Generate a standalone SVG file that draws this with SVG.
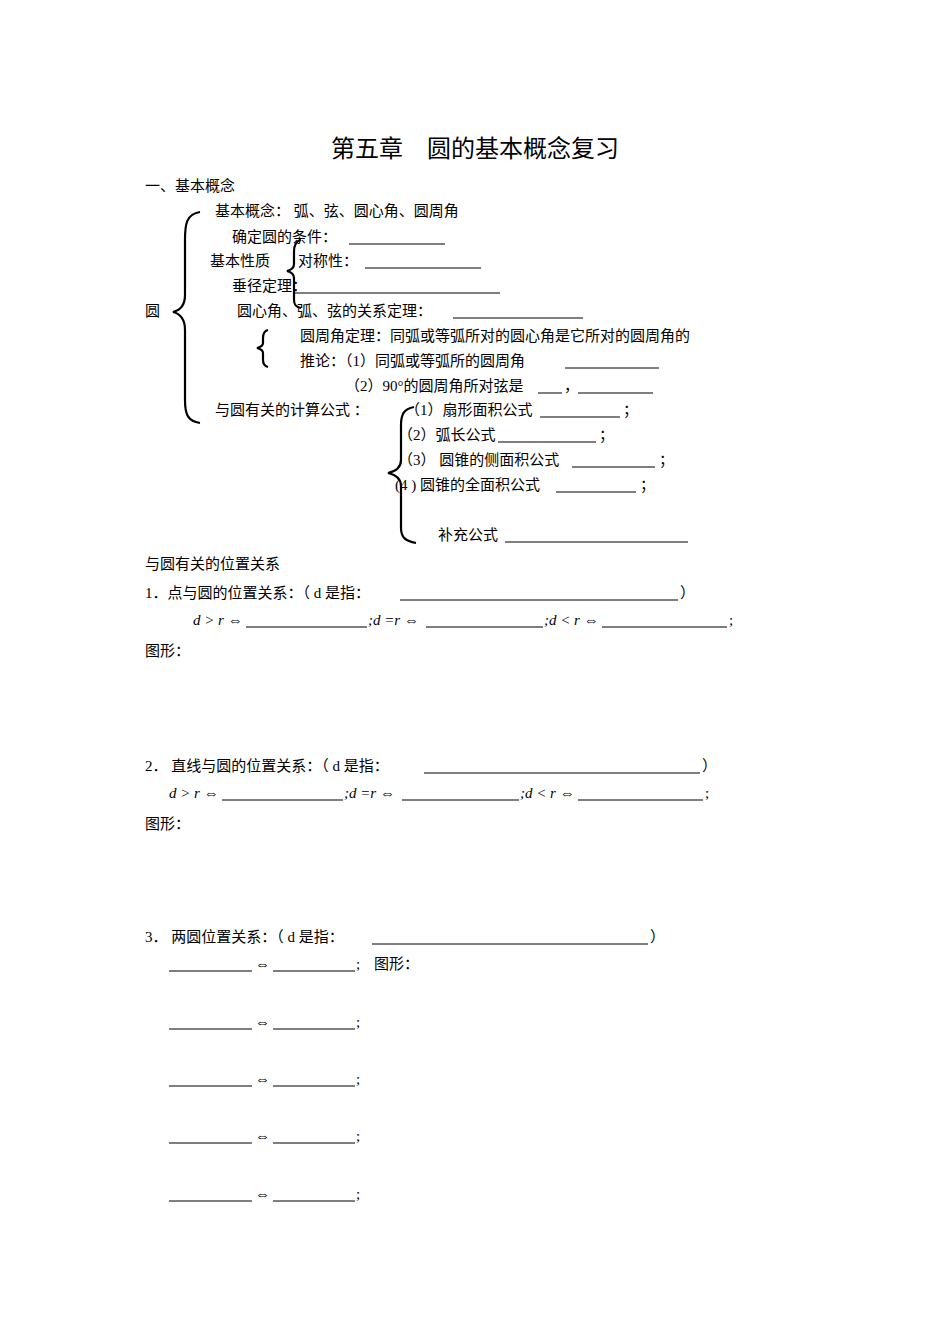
<svg xmlns="http://www.w3.org/2000/svg" width="950" height="1344" viewBox="0 0 950 1344">
<style>
text{font-family:"Liberation Serif","Noto Sans CJK SC",serif;font-size:15px;fill:#000}
.t{font-size:24px}
.i{font-style:italic}
.b{stroke:#000;stroke-width:1}
.br{fill:none;stroke:#000;stroke-width:2.2}
</style>
<rect width="950" height="1344" fill="#fff"/>
<text class="t" x="475" y="157" text-anchor="middle">第五章　圆的基本概念复习</text>
<g id="braces">
<path class="br" d="M200,212 C186,214 185,225 185,240 L185,295 C185,305 181,310 173,312 C181,314 185,320 185,330 L185,400 C185,415 188,421 200,423"/>
<path class="br" d="M301,240 C295,241 294,246 294,252 L294,264 C294,268 291,270 287,271 C291,272 294,274 294,278 L294,300 C294,305 296,307 301,308"/>
<path class="br" d="M268,330 C264,331 263,334 263,338 L263,343 C263,346 261,347 257,348 C261,349 263,350 263,353 L263,360 C263,364 264,366 268,367"/>
<path class="br" d="M414,407 C404,409 401,414 401,425 L401,460 C401,467 397,471 388,473 C397,475 401,479 401,486 L401,528 C401,537 405,541 416,543"/>
</g>
<g id="text">
<text x="145" y="191">一、基本概念</text>
<text x="215" y="216">基本概念：  弧、弦、圆心角、圆周角</text>
<text x="232" y="242">确定圆的条件：</text><line class="b" x1="349" y1="244" x2="445" y2="244"/>
<text x="210" y="266">基本性质</text><text x="298" y="266">对称性：</text><line class="b" x1="365" y1="268" x2="481" y2="268"/>
<text x="232" y="291">垂径定理：</text><line class="b" x1="293" y1="293" x2="500" y2="293"/>
<text x="145" y="316">圆</text><text x="237" y="316">圆心角、弧、弦的关系定理：</text><line class="b" x1="453" y1="318" x2="583" y2="318"/>
<text x="300" y="341">圆周角定理：同弧或等弧所对的圆心角是它所对的圆周角的</text>
<text x="300" y="366">推论：（1）同弧或等弧所的圆周角</text><line class="b" x1="565" y1="368" x2="659" y2="368"/>
<text x="345" y="391">（2）90°的圆周角所对弦是</text><line class="b" x1="538" y1="393" x2="562" y2="393"/><text x="564" y="391">，</text><line class="b" x1="578" y1="393" x2="653" y2="393"/>
<text x="215" y="415">与圆有关的计算公式 ：</text>
<text x="405" y="415">（1）扇形面积公式</text><line class="b" x1="540" y1="417" x2="620" y2="417"/><text x="623" y="415">；</text>
<text x="398" y="440">（2）弧长公式</text><line class="b" x1="498" y1="442" x2="596" y2="442"/><text x="599" y="440">；</text>
<text x="398" y="465">（3） 圆锥的侧面积公式</text><line class="b" x1="572" y1="467" x2="655" y2="467"/><text x="659" y="465">；</text>
<text x="395" y="490">(4 ) 圆锥的全面积公式</text><line class="b" x1="556" y1="492" x2="636" y2="492"/><text x="640" y="490">；</text>
<text x="438" y="540">补充公式</text><line class="b" x1="505" y1="542" x2="688" y2="542"/>
<text x="145" y="569">与圆有关的位置关系</text>
<text x="145" y="598">1．点与圆的位置关系：（ d 是指：</text><line class="b" x1="400" y1="600" x2="678" y2="600"/><text x="680" y="598">）</text>
<text class="i" x="193" y="625">d &gt; r ⇔</text><line class="b" x1="246" y1="627" x2="367" y2="627"/><text class="i" x="368" y="625">;d =r ⇔</text><line class="b" x1="426" y1="627" x2="543" y2="627"/><text class="i" x="544" y="625">;d &lt; r ⇔</text><line class="b" x1="602" y1="627" x2="727" y2="627"/><text x="729" y="625">;</text>
<text x="145" y="656">图形：</text>
<text x="145" y="771">2． 直线与圆的位置关系：（ d 是指：</text><line class="b" x1="424" y1="773" x2="700" y2="773"/><text x="702" y="771">）</text>
<text class="i" x="169" y="798">d &gt; r ⇔</text><line class="b" x1="222" y1="800" x2="343" y2="800"/><text class="i" x="344" y="798">;d =r ⇔</text><line class="b" x1="402" y1="800" x2="519" y2="800"/><text class="i" x="520" y="798">;d &lt; r ⇔</text><line class="b" x1="578" y1="800" x2="703" y2="800"/><text x="705" y="798">;</text>
<text x="145" y="829">图形：</text>
<text x="145" y="942">3． 两圆位置关系：（ d 是指：</text><line class="b" x1="372" y1="944" x2="648" y2="944"/><text x="650" y="942">）</text>
<line class="b" x1="169" y1="971" x2="252" y2="971"/><text x="255" y="969">⇔</text><line class="b" x1="273" y1="971" x2="355" y2="971"/><text x="356" y="969">;</text><text x="374" y="969">图形：</text>
<line class="b" x1="169" y1="1029" x2="252" y2="1029"/><text x="255" y="1027">⇔</text><line class="b" x1="273" y1="1029" x2="355" y2="1029"/><text x="356" y="1027">;</text>
<line class="b" x1="169" y1="1086" x2="252" y2="1086"/><text x="255" y="1084">⇔</text><line class="b" x1="273" y1="1086" x2="355" y2="1086"/><text x="356" y="1084">;</text>
<line class="b" x1="169" y1="1143" x2="252" y2="1143"/><text x="255" y="1141">⇔</text><line class="b" x1="273" y1="1143" x2="355" y2="1143"/><text x="356" y="1141">;</text>
<line class="b" x1="169" y1="1201" x2="252" y2="1201"/><text x="255" y="1199">⇔</text><line class="b" x1="273" y1="1201" x2="355" y2="1201"/><text x="356" y="1199">;</text>
</g>
</svg>
